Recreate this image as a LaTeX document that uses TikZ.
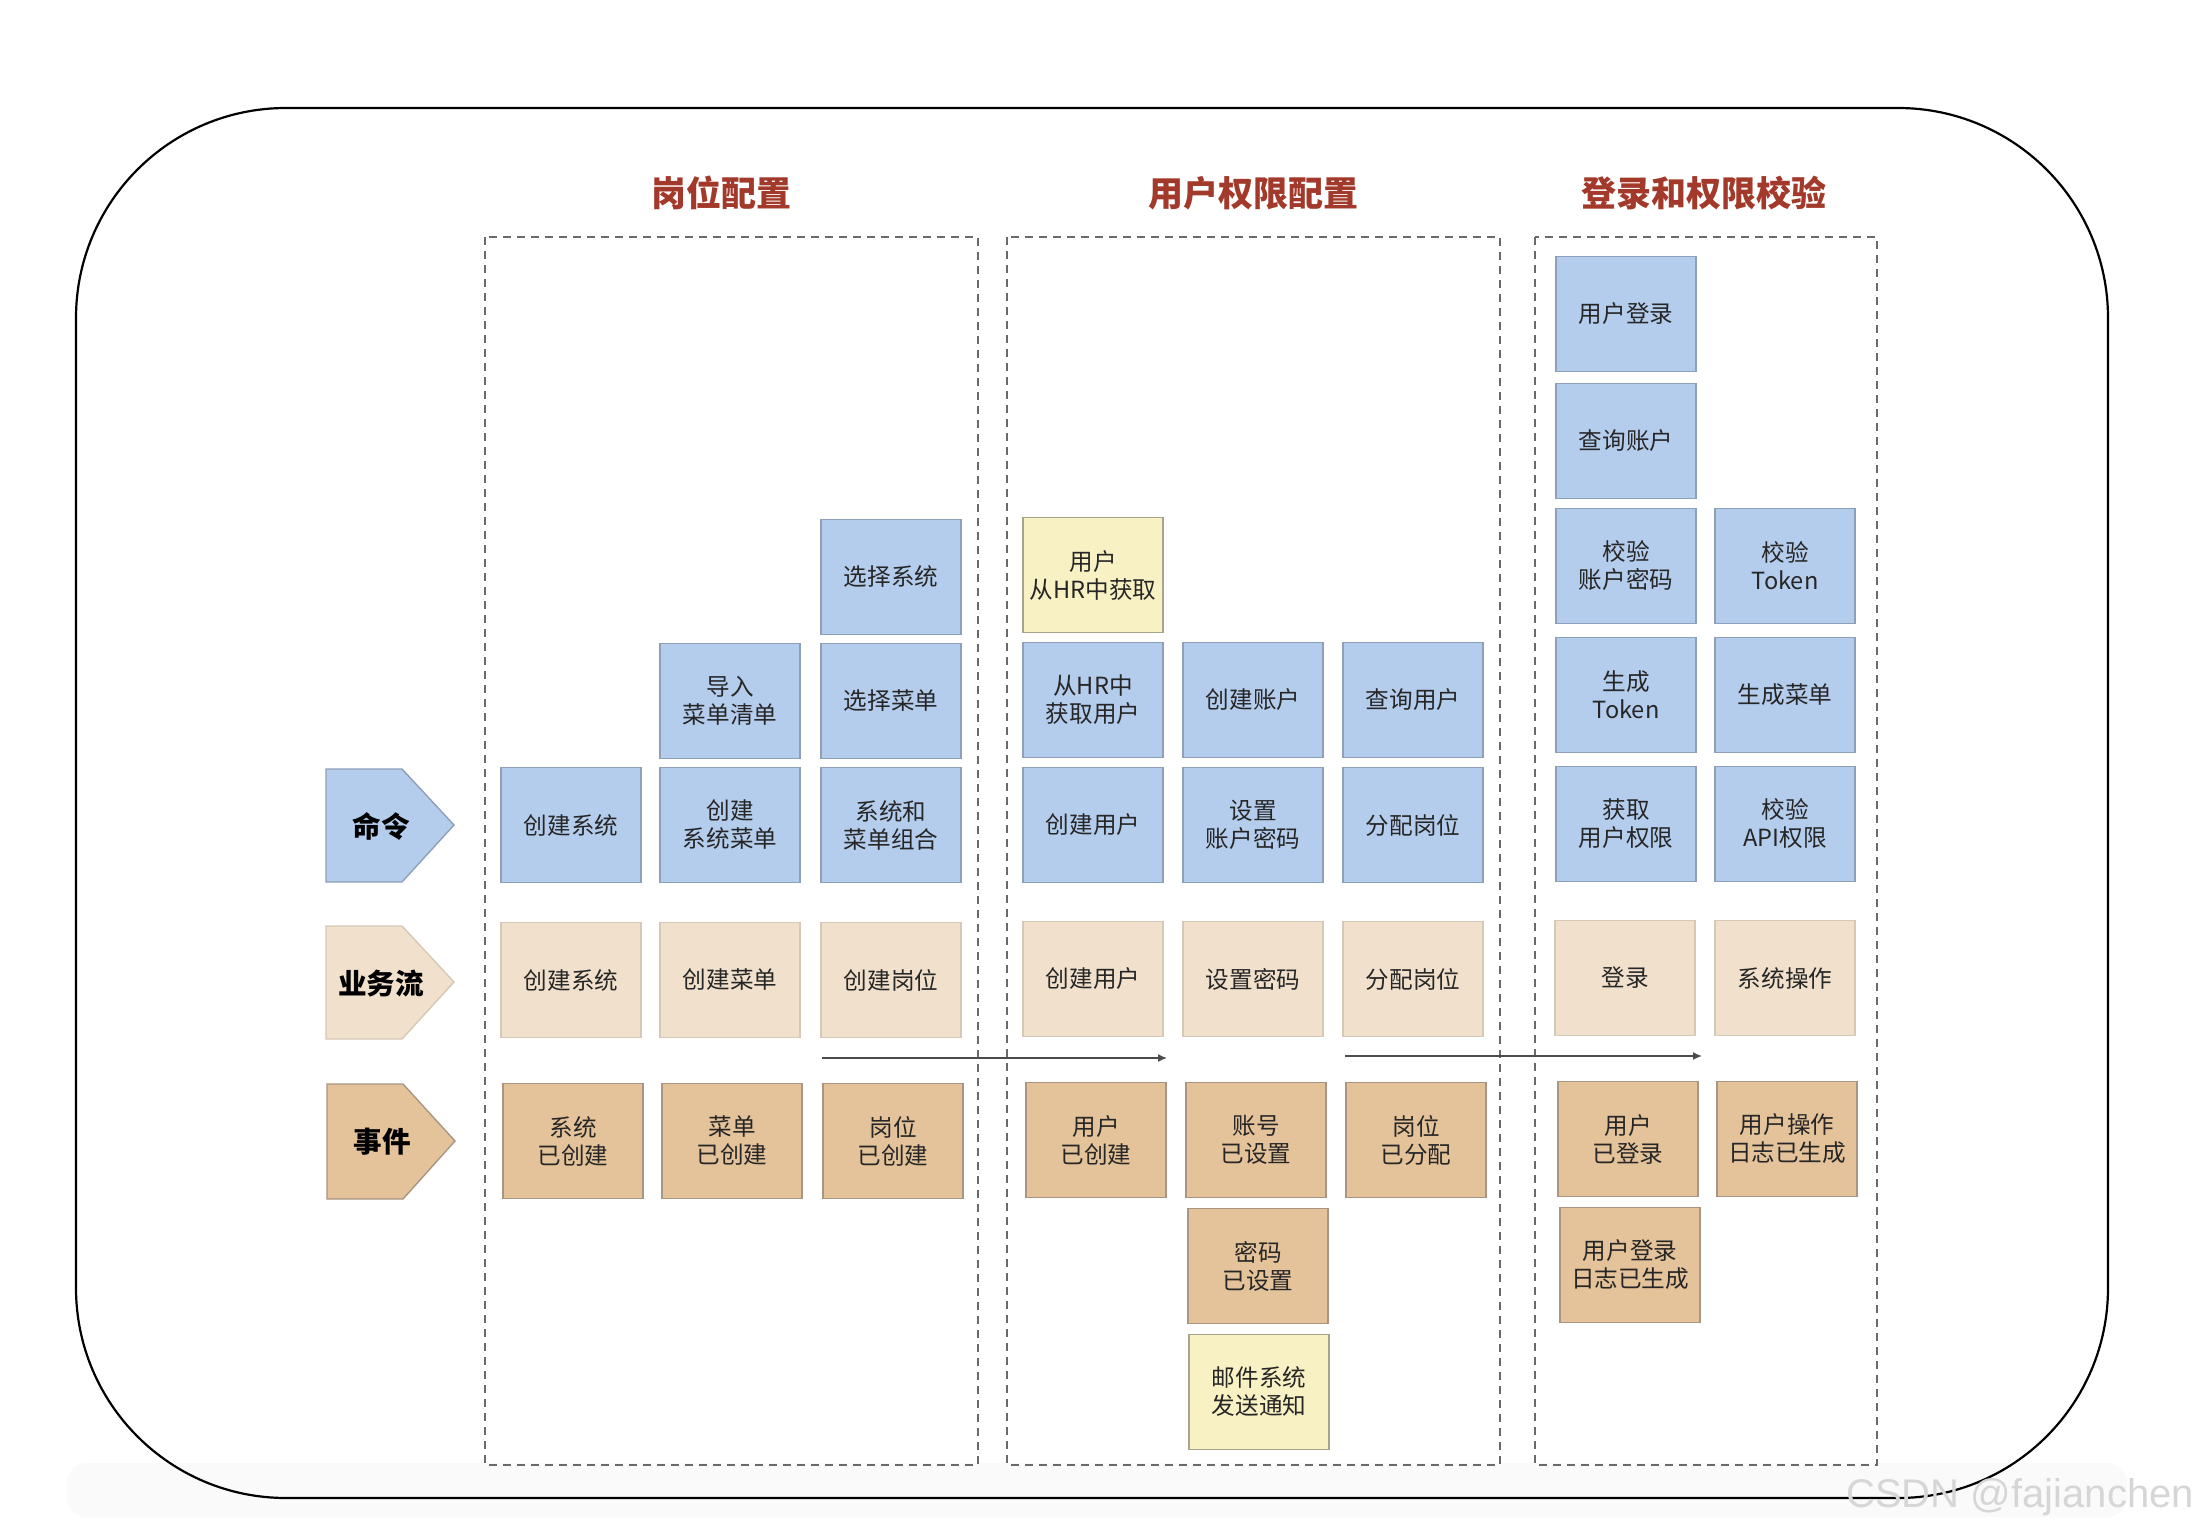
\documentclass[tikz,border=0pt]{standalone}
\usepackage{fontspec}
\setmainfont{Noto Sans CJK SC}
\newfontfamily\wmfont{Liberation Sans}
\usetikzlibrary{arrows.meta}
\definecolor{cmdfill}{HTML}{B5CDED}
\definecolor{cmddraw}{HTML}{8E9FBA}
\definecolor{flowfill}{HTML}{F1E1CC}
\definecolor{flowdraw}{HTML}{D6C8B6}
\definecolor{evtfill}{HTML}{E4C39B}
\definecolor{evtdraw}{HTML}{A89682}
\definecolor{extfill}{HTML}{F8F1C4}
\definecolor{extdraw}{HTML}{A8A48C}
\definecolor{titlered}{HTML}{A3392A}
\definecolor{panelgray}{HTML}{6A6A6A}
\tikzset{
  box/.style={draw, line width=0.7pt, minimum width=70pt, minimum height=57.5pt,
    inner sep=0pt, align=center, text=black!85,
    font=\fontsize{11.8pt}{14pt}\selectfont},
  cmd/.style={box, fill=cmdfill, draw=cmddraw},
  flow/.style={box, fill=flowfill, draw=flowdraw},
  evt/.style={box, fill=evtfill, draw=evtdraw},
  ext/.style={box, fill=extfill, draw=extdraw},
  panel/.style={draw=panelgray, line width=0.7pt, dash pattern=on 4pt off 3pt},
  paneltitle/.style={text=titlered, font=\fontsize{17.5pt}{20pt}\selectfont\bfseries},
  lanelabel/.style={font=\fontsize{14.3pt}{16pt}\selectfont\bfseries, text=black},
  flowarrow/.style={draw=black!70, line width=0.75pt, -{Latex[length=4.5pt,width=4pt]}}
}
\begin{document}
\begin{tikzpicture}[x=0.5pt,y=-0.5pt]
\useasboundingbox (0,0) rectangle (2196,1534);
\fill[white] (0,0) rectangle (2196,1534);
% faint bottom band
\fill[black!2, rounded corners=10pt] (67,1463) rectangle (2127,1517);
% outer frame
\draw[black, line width=1.1pt, rounded corners=105pt] (76,108) rectangle (2108,1498);

% panel titles
\node[paneltitle] (t1) at (721,193) {岗位配置};
\node[paneltitle] (t2) at (1253,193) {用户权限配置};
\node[paneltitle] (t3) at (1704,193) {登录和权限校验};

% dashed panels
\draw[panel] (485,237) rectangle (978,1465);
\draw[panel] (1007,237) rectangle (1500,1465);
\draw[panel] (1535,237) rectangle (1877,1465);

% lane labels (pentagons)
\draw[fill=cmdfill, draw=cmddraw, line width=0.7pt] (326,769) -- (402,769) -- (454,825) -- (402,882) -- (326,882) -- cycle;
\node[lanelabel] (lcmd) at (381,826) {命令};
\draw[fill=flowfill, draw=flowdraw, line width=0.7pt] (326,926) -- (402,926) -- (454,982) -- (402,1039) -- (326,1039) -- cycle;
\node[lanelabel] (lflow) at (381,984) {业务流};
\draw[fill=evtfill, draw=evtdraw, line width=0.7pt] (327,1084) -- (403,1084) -- (455,1141) -- (403,1199) -- (327,1199) -- cycle;
\node[lanelabel] (levt) at (382,1142) {事件};

% ---- panel 1
\node[cmd] (selsys) at (891,577) {选择系统};
\node[cmd] (impmenu) at (730,701) {导入\\菜单清单};
\node[cmd] (selmenu) at (891,701) {选择菜单};
\node[cmd] (crsys) at (571,825) {创建系统};
\node[cmd] (crsysmenu) at (730,825) {创建\\系统菜单};
\node[cmd] (combo) at (891,825) {系统和\\菜单组合};
\node[flow] (fsys) at (571,980) {创建系统};
\node[flow] (fmenu) at (730,980) {创建菜单};
\node[flow] (fpos) at (891,980) {创建岗位};
\node[evt] (esys) at (573,1141) {系统\\已创建};
\node[evt] (emenu) at (732,1141) {菜单\\已创建};
\node[evt] (epos) at (893,1141) {岗位\\已创建};

% ---- panel 2
\node[ext] (hruser) at (1093,575) {用户\\从HR中获取};
\node[cmd] (gethr) at (1093,700) {从HR中\\获取用户};
\node[cmd] (cracct) at (1253,700) {创建账户};
\node[cmd] (quser) at (1413,700) {查询用户};
\node[cmd] (cruser) at (1093,825) {创建用户};
\node[cmd] (setpw) at (1253,825) {设置\\账户密码};
\node[cmd] (asgpos) at (1413,825) {分配岗位};
\node[flow] (fuser) at (1093,979) {创建用户};
\node[flow] (fpw) at (1253,979) {设置密码};
\node[flow] (fasg) at (1413,979) {分配岗位};
\node[evt] (euser) at (1096,1140) {用户\\已创建};
\node[evt] (eacct) at (1256,1140) {账号\\已设置};
\node[evt] (easg) at (1416,1140) {岗位\\已分配};
\node[evt] (epw) at (1258,1266) {密码\\已设置};
\node[ext] (mail) at (1259,1392) {邮件系统\\发送通知};

% ---- panel 3
\node[cmd] (login) at (1626,314) {用户登录};
\node[cmd] (qacct) at (1626,441) {查询账户};
\node[cmd] (chkpw) at (1626,566) {校验\\账户密码};
\node[cmd] (chktok) at (1785,566) {校验\\Token};
\node[cmd] (gentok) at (1626,695) {生成\\Token};
\node[cmd] (genmenu) at (1785,695) {生成菜单};
\node[cmd] (getperm) at (1626,824) {获取\\用户权限};
\node[cmd] (chkapi) at (1785,824) {校验\\API权限};
\node[flow] (flogin) at (1625,978) {登录};
\node[flow] (fop) at (1785,978) {系统操作};
\node[evt] (elogin) at (1628,1139) {用户\\已登录};
\node[evt] (eop) at (1787,1139) {用户操作\\日志已生成};
\node[evt] (elog) at (1630,1265) {用户登录\\日志已生成};

% flow arrows
\coordinate (a1s) at (822,1058);
\coordinate (a1e) at (1167,1058);
\coordinate (a2s) at (1345,1056);
\coordinate (a2e) at (1702,1056);
\draw[flowarrow] (a1s) -- (a1e);
\draw[flowarrow] (a2s) -- (a2e);

% watermark
\node[anchor=west, inner sep=0pt, font=\wmfont\fontsize{20pt}{22pt}\selectfont, text=black!16] (wm) at (1846,1497) {CSDN @fajianchen};
\end{tikzpicture}
\end{document}
